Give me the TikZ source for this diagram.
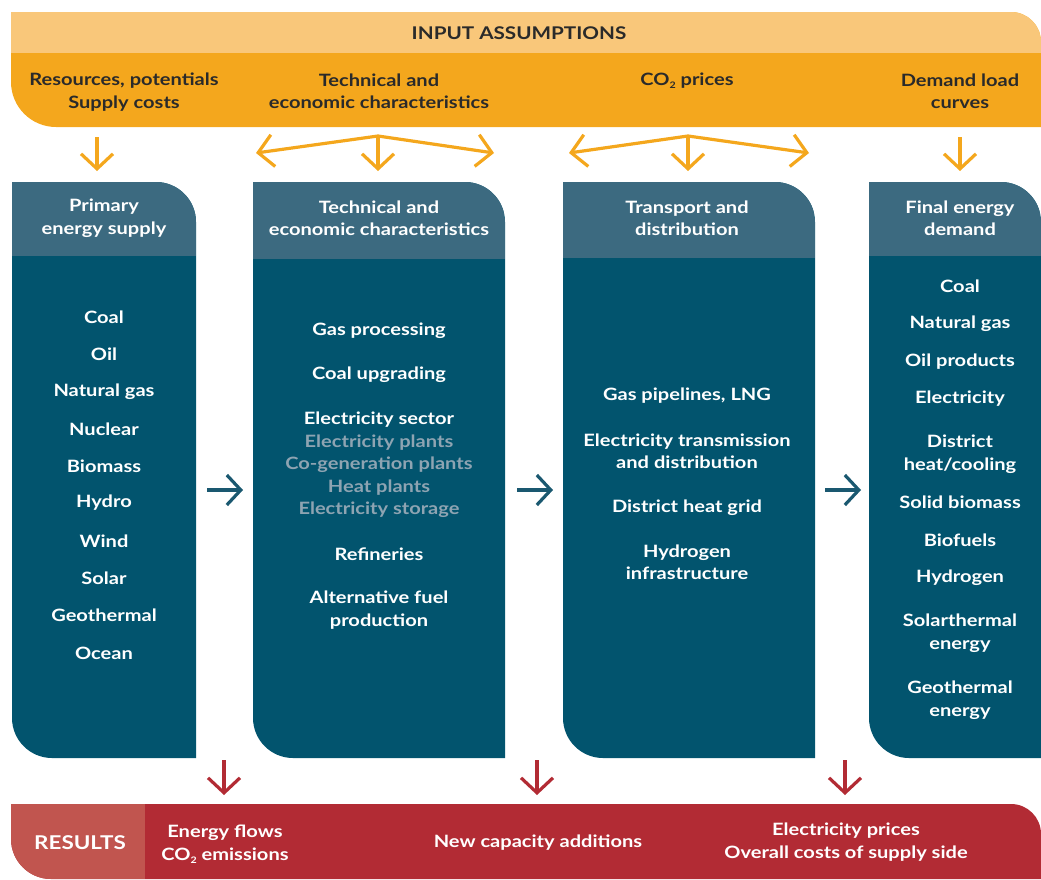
\documentclass[tikz,border=0pt]{standalone}
\usepackage{fontspec}
\setmainfont{Lato}[FakeStretch=1.18]
\usetikzlibrary{arrows.meta}
\definecolor{lorange}{HTML}{F9C77A}
\definecolor{dorange}{HTML}{F4A71D}
\definecolor{headc}{HTML}{3C6A80}
\definecolor{bodyc}{HTML}{02546E}
\definecolor{grayt}{HTML}{8EA4B2}
\definecolor{tealarr}{HTML}{1A5870}
\definecolor{redc}{HTML}{B22B34}
\definecolor{lredc}{HTML}{C1554F}
\definecolor{darkt}{HTML}{2A2A2A}
\newcommand{\mycolpath}[4]{(#1,#3) -- ({#2-40},#3) .. controls ({#2-18},#3) and (#2,{#3+18}) .. (#2,{#3+40}) -- (#2,#4) -- ({#1+40},#4) .. controls ({#1+18},#4) and (#1,{#4-18}) .. (#1,{#4-40}) -- cycle}
\newcommand{\cotwo}{CO\raisebox{-0.35ex}{\fontsize{9}{9}\selectfont 2}}
\begin{document}
\begin{tikzpicture}[x=1pt,y=-1pt,
  txt/.style={font=\fontsize{17}{22.5}\selectfont\bfseries, align=center, inner sep=0pt},
  wtxt/.style={txt, text=white},
  gtxt/.style={txt, text=grayt},
  dtxt/.style={txt, text=darkt},
  oarr/.style={draw=dorange, line width=3.2pt, -{Straight Barb[length=15pt,width=32pt,line width=3.2pt]}},
  tarr/.style={draw=tealarr, line width=3.2pt, -{Straight Barb[length=14pt,width=30pt,line width=3.2pt]}},
  rarr/.style={draw=redc, line width=3.2pt, -{Straight Barb[length=15pt,width=32pt,line width=3.2pt]}}]
\useasboundingbox (0,0) rectangle (1041,879);
% ---------- top banner
\fill[dorange] (11,12) -- (1011,12) .. controls (1027.6,12) and (1041,25.4) .. (1041,42) -- (1041,127) -- (56,127) .. controls (31.2,127) and (11,106.8) .. (11,82) -- cycle;
\begin{scope}
\clip (11,12) -- (1011,12) .. controls (1027.6,12) and (1041,25.4) .. (1041,42) -- (1041,127) -- (11,127) -- cycle;
\fill[lorange] (0,0) rectangle (1041,53);
\end{scope}
\node[dtxt, font=\fontsize{17.5}{22.5}\selectfont\bfseries] (inp) at (519,33) {INPUT ASSUMPTIONS};
\node[dtxt] (res) at (124,92) {Resources, potentials\\Supply costs};
\node[dtxt] (tec) at (379,91) {Technical and\\economic characteristics};
\node[dtxt] (co2) at (687,81) {\cotwo{} prices};
\node[dtxt] (dem) at (960,91) {Demand load\\curves};
% ---------- columns
\foreach \xa/\xb/\hb in {12/196/256, 253/505/259, 563/815/258, 869/1041/256}{
  \fill[bodyc] \mycolpath{\xa}{\xb}{182}{758};
  \begin{scope}
    \clip \mycolpath{\xa}{\xb}{182}{758};
    \fill[headc] (\xa,182) rectangle (\xb,\hb);
  \end{scope}
}
% headers
\node[wtxt] (h1) at (104,218) {Primary\\energy supply};
\node[wtxt] (h2) at (379,218) {Technical and\\economic characteristics};
\node[wtxt] (h3) at (687,218) {Transport and\\distribution};
\node[wtxt] (h4) at (960,218) {Final energy\\demand};
% column 1
\node[wtxt] (c1a) at (104,317) {Coal};
\node[wtxt] (c1b) at (104,354) {Oil};
\node[wtxt] (c1c) at (104,392) {Natural gas};
\node[wtxt] (c1d) at (104,429) {Nuclear};
\node[wtxt] (c1e) at (104,466) {Biomass};
\node[wtxt] (c1f) at (104,503) {Hydro};
\node[wtxt] (c1g) at (104,541) {Wind};
\node[wtxt] (c1h) at (104,578) {Solar};
\node[wtxt] (c1i) at (104,615) {Geothermal};
\node[wtxt] (c1j) at (104,653) {Ocean};
% column 2
\node[wtxt] (c2a) at (379,331) {Gas processing};
\node[wtxt] (c2b) at (379,375) {Coal upgrading};
\node[wtxt] (c2c) at (379,420) {Electricity sector};
\node[gtxt] (c2d) at (379,476) {Electricity plants\\Co-generation plants\\Heat plants\\Electricity storage};
\node[wtxt] (c2e) at (379,554) {Refineries};
\node[wtxt] (c2f) at (379,610) {Alternative fuel\\production};
% column 3
\node[wtxt] (c3a) at (687,396) {Gas pipelines, LNG};
\node[wtxt] (c3b) at (687,451) {Electricity transmission\\and distribution};
\node[wtxt] (c3c) at (687,508) {District heat grid};
\node[wtxt] (c3d) at (687,562) {Hydrogen\\infrastructure};
% column 4
\node[wtxt] (c4a) at (960,286) {Coal};
\node[wtxt] (c4b) at (960,324) {Natural gas};
\node[wtxt] (c4c) at (960,362) {Oil products};
\node[wtxt] (c4d) at (960,399) {Electricity};
\node[wtxt] (c4e) at (960,454) {District\\heat/cooling};
\node[wtxt] (c4f) at (960,502) {Solid biomass};
\node[wtxt] (c4g) at (960,540) {Biofuels};
\node[wtxt] (c4h) at (960,578) {Hydrogen};
\node[wtxt] (c4i) at (960,633) {Solarthermal\\energy};
\node[wtxt] (c4j) at (960,700) {Geothermal\\energy};
% ---------- results bar
\fill[redc] (11,804) -- (1011,804) .. controls (1027.6,804) and (1041,817.4) .. (1041,834) -- (1041,879) -- (51,879) .. controls (29,879) and (11,861) .. (11,839) -- cycle;
\begin{scope}
\clip (11,804) -- (1041,804) -- (1041,879) -- (51,879) .. controls (29,879) and (11,861) .. (11,839) -- cycle;
\fill[lredc] (0,804) rectangle (145,879);
\end{scope}
\node[wtxt, font=\fontsize{19}{22.5}\selectfont\bfseries] (r0) at (80,843) {RESULTS};
\node[wtxt] (r1) at (225,844) {Energy flows\\\cotwo{} emissions};
\node[wtxt] (r2) at (538,843) {New capacity additions};
\node[wtxt] (r3) at (846,842) {Electricity prices\\Overall costs of supply side};
% ---------- arrow coordinates
\coordinate (o1s) at (97,137); \coordinate (o1e) at (97,171);
\coordinate (o2s) at (378,136); \coordinate (o2e) at (378,171);
\coordinate (o2l) at (256,153); \coordinate (o2r) at (494,153);
\coordinate (o3s) at (688,136); \coordinate (o3e) at (688,171);
\coordinate (o3l) at (569,153); \coordinate (o3r) at (809,153);
\coordinate (o4s) at (960,137); \coordinate (o4e) at (960,171);
\draw[oarr] (o1s) -- (o1e);
\draw[oarr] (o2s) -- (o2e);
\draw[oarr] (o2s) -- (o2l);
\draw[oarr] (o2s) -- (o2r);
\draw[oarr] (o3s) -- (o3e);
\draw[oarr] (o3s) -- (o3l);
\draw[oarr] (o3s) -- (o3r);
\draw[oarr] (o4s) -- (o4e);
% teal arrows
\coordinate (t1s) at (207,490); \coordinate (t1e) at (243,490);
\coordinate (t2s) at (517,490); \coordinate (t2e) at (553,490);
\coordinate (t3s) at (825,490); \coordinate (t3e) at (861,490);
\draw[tarr] (t1s) -- (t1e);
\draw[tarr] (t2s) -- (t2e);
\draw[tarr] (t3s) -- (t3e);
% red arrows
\coordinate (d1s) at (224,760); \coordinate (d1e) at (224,795);
\coordinate (d2s) at (537,760); \coordinate (d2e) at (537,795);
\coordinate (d3s) at (845,760); \coordinate (d3e) at (845,795);
\draw[rarr] (d1s) -- (d1e);
\draw[rarr] (d2s) -- (d2e);
\draw[rarr] (d3s) -- (d3e);
\end{tikzpicture}
\end{document}
